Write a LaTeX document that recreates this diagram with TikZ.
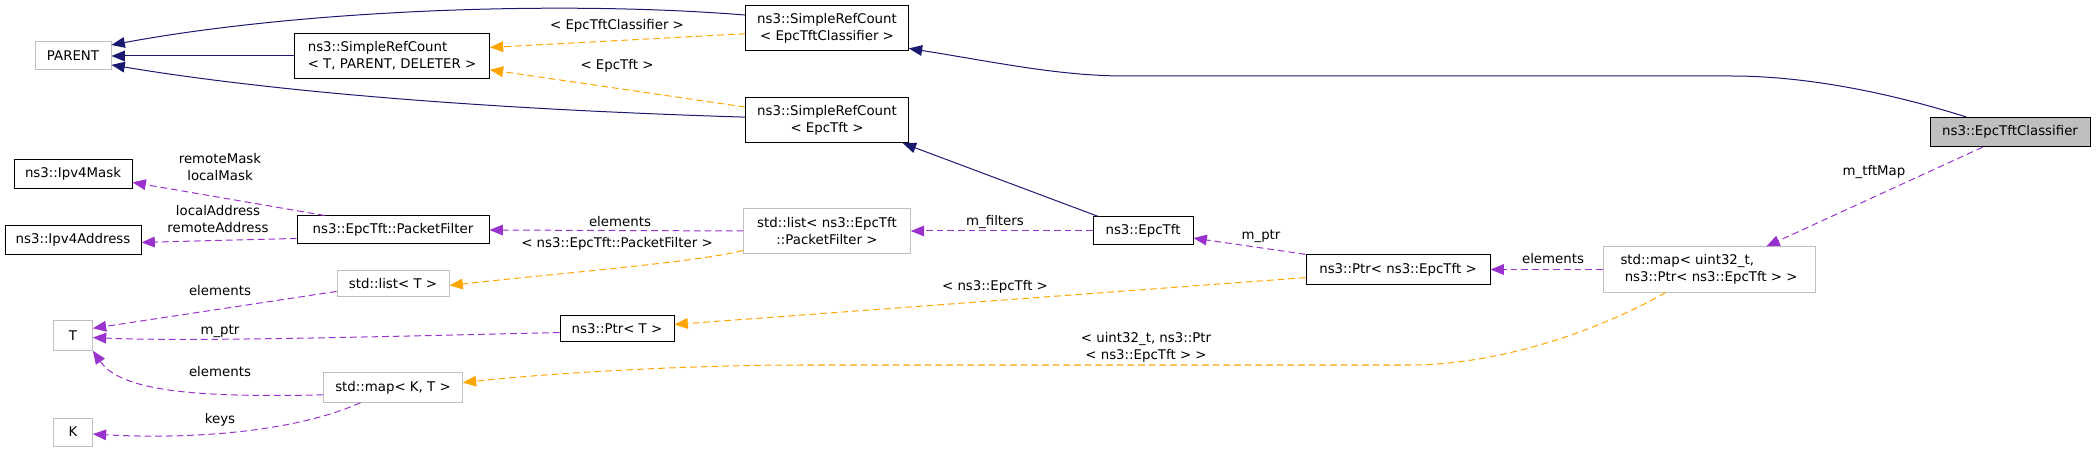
\documentclass[tikz,border=0pt]{standalone}
\usepackage{fontspec}
\setmainfont{DejaVu Sans}
\usetikzlibrary{arrows.meta}

\definecolor{inhcol}{HTML}{191970}
\definecolor{tplcol}{HTML}{FFA500}
\definecolor{usecol}{HTML}{9A32CD}
\definecolor{extcol}{HTML}{BFBFBF}

\tikzset{
  box/.style={draw, line width=0.75pt, inner sep=0pt, align=center, font=\fontsize{10}{12.75}\selectfont},
  cls/.style={box, draw=black},
  ext/.style={box, draw=extcol},
  focus/.style={box, draw=black, fill=extcol},
  inherit/.style={draw=inhcol, line width=0.75pt, -{Triangle[length=10pt,width=8pt]}},
  usage/.style={draw=usecol, line width=0.75pt, dash pattern=on 5pt off 3pt, -{Triangle[length=10pt,width=8pt]}},
  tmpl/.style={draw=tplcol, line width=0.75pt, dash pattern=on 5pt off 3pt, -{Triangle[length=10pt,width=8pt]}},
  lbl/.style={font=\fontsize{10}{12.75}\selectfont, align=center, inner sep=0pt}
}

\begin{document}
\begin{tikzpicture}[x=0.75pt, y=-0.75pt]
\useasboundingbox (0,0) rectangle (2096,452);

\node[ext, minimum width=57pt, minimum height=21pt] (parent) at (73,56) {PARENT};
\node[cls, minimum width=146pt, minimum height=34pt, align=left] (srcTPD) at (392,56) {ns3::SimpleRefCount\\< T, PARENT, DELETER >};
\node[cls, minimum width=122pt, minimum height=34pt] (srcClassifier) at (827,28) {ns3::SimpleRefCount\\< EpcTftClassifier >};
\node[cls, minimum width=122pt, minimum height=34pt] (srcTft) at (827,120) {ns3::SimpleRefCount\\< EpcTft >};
\node[focus, minimum width=120pt, minimum height=22pt] (classifier) at (2010,132) {ns3::EpcTftClassifier};
\node[cls, minimum width=88.5pt, minimum height=22pt] (ipv4Mask) at (73,174) {ns3::Ipv4Mask};
\node[cls, minimum width=102pt, minimum height=22pt] (ipv4Address) at (73,240) {ns3::Ipv4Address};
\node[cls, minimum width=144pt, minimum height=21pt] (packetFilter) at (393,230) {ns3::EpcTft::PacketFilter};
\node[ext, minimum width=125pt, minimum height=34pt] (filterList) at (827,231) {std::list< ns3::EpcTft\\::PacketFilter >};
\node[cls, minimum width=75pt, minimum height=21pt] (epcTft) at (1143,231) {ns3::EpcTft};
\node[cls, minimum width=138pt, minimum height=22pt] (tftPtr) at (1398,269.5) {ns3::Ptr< ns3::EpcTft >};
\node[ext, minimum width=159pt, minimum height=34pt, align=left] (tftMap) at (1709,269.5) {std::map< uint32\_t,\\~ns3::Ptr< ns3::EpcTft > >};
\node[ext, minimum width=84pt, minimum height=20pt] (listT) at (393,283.5) {std::list< T >};
\node[ext, minimum width=29pt, minimum height=22pt] (T) at (73,335.5) {T};
\node[cls, minimum width=85.5pt, minimum height=20pt] (ptrT) at (617,328.5) {ns3::Ptr< T >};
\node[ext, minimum width=104pt, minimum height=22pt] (mapKT) at (393,387.5) {std::map< K, T >};
\node[ext, minimum width=29pt, minimum height=21pt] (K) at (73,432) {K};

\draw[inherit] (srcClassifier.171) .. controls (560,0) and (300,10) .. (parent.16);
\draw[inherit] (srcTPD.west) -- (parent.east);
\draw[inherit] (srcTft.178) .. controls (450,108) and (250,88) .. (parent.347);
\draw[inherit] (classifier.161) .. controls (1880,90) and (1800,76) .. (1731,76) -- (1126,76) .. controls (1060,76) and (1000,63) .. (srcClassifier.346);
\draw[inherit] (epcTft.162) -- (srcTft.343);

\draw[tmpl] (srcClassifier.184) -- (srcTPD.5);
\draw[tmpl] (srcTft.171) -- (srcTPD.352);
\draw[tmpl] (filterList.193) .. controls (700,262) and (560,273) .. (listT.358);
\draw[tmpl] (tftPtr.185) -- (ptrT.4);
\draw[tmpl] (tftMap.208) .. controls (1600,330) and (1500,365) .. (1410,365) -- (800,365) .. controls (700,365) and (560,372) .. (mapKT.4);

\draw[usage] (packetFilter.168) -- (ipv4Mask.352);
\draw[usage] (packetFilter.185) -- (ipv4Address.358);
\draw[usage] (filterList.west) -- (packetFilter.east);
\draw[usage] (epcTft.west) -- (filterList.east);
\draw[usage] (tftPtr.north west) -- (epcTft.352);
\draw[usage] (tftMap.west) -- (tftPtr.east);
\draw[usage] (classifier.209) -- (tftMap.22);
\draw[usage] (listT.188) -- (T.20);
\draw[usage] (ptrT.184) .. controls (400,336) and (200,342) .. (T.354);
\draw[usage] (mapKT.186) .. controls (190,398) and (120,390) .. (T.south east);
\draw[usage] (mapKT.205) .. controls (300,430) and (200,440) .. (K.354);

\node[lbl] (lClassifier) at (617,26) {< EpcTftClassifier >};
\node[lbl] (lTft) at (617,66) {< EpcTft >};
\node[lbl] (lMask) at (220,167) {remoteMask\\localMask};
\node[lbl] (lAddress) at (218,219) {localAddress\\remoteAddress};
\node[lbl] (lElemFilter) at (620,222) {elements};
\node[lbl] (lPacketFilter) at (617,244) {< ns3::EpcTft::PacketFilter >};
\node[lbl] (lFilters) at (995,222) {m\_filters};
\node[lbl] (lPtr) at (1261,236) {m\_ptr};
\node[lbl] (lPtrTft) at (995,287) {< ns3::EpcTft >};
\node[lbl] (lElemMap) at (1553,259) {elements};
\node[lbl] (lTftMap) at (1874,172) {m\_tftMap};
\node[lbl] (lMapArgs) at (1146,347) {< uint32\_t, ns3::Ptr\\< ns3::EpcTft > >};
\node[lbl] (lElemList) at (220,291) {elements};
\node[lbl] (lPtrT) at (220,331) {m\_ptr};
\node[lbl] (lElemMapKT) at (220,372) {elements};
\node[lbl] (lKeys) at (220,420) {keys};
\end{tikzpicture}
\end{document}
